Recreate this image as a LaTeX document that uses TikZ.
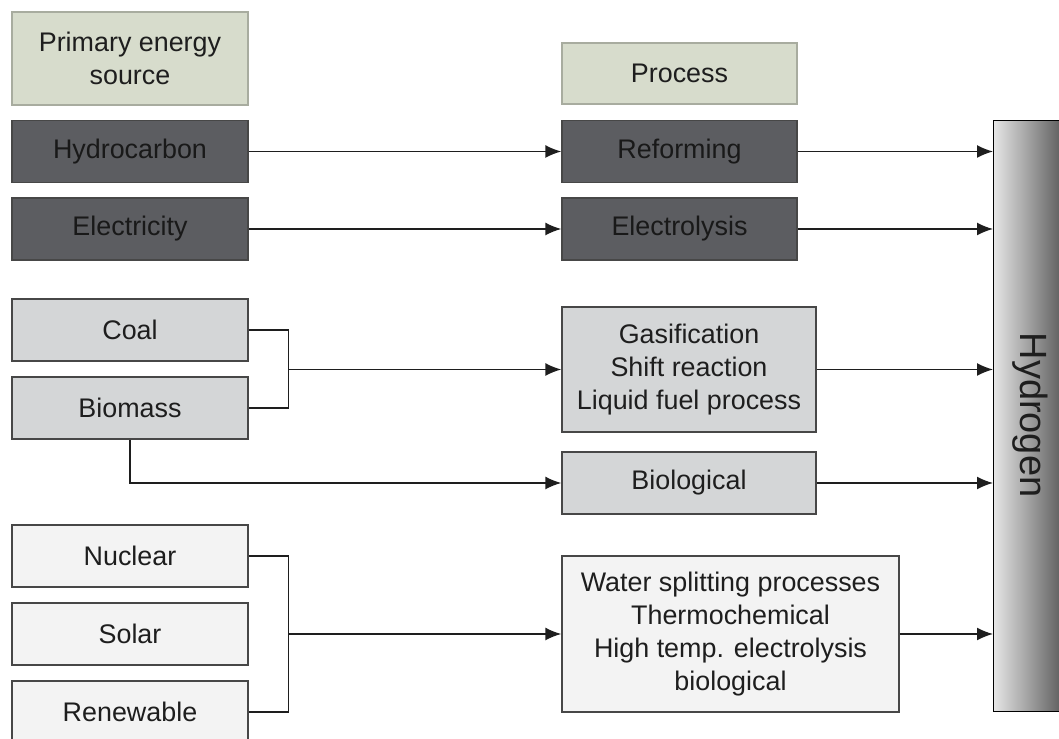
\documentclass[tikz,border=0pt]{standalone}
\usepackage{fontspec}
\setmainfont{Liberation Sans}
\usepackage{xcolor}
\usepackage{tikz}
\usetikzlibrary{arrows.meta,positioning,calc}
\definecolor{headfill}{HTML}{D7DCCC}
\definecolor{headline}{HTML}{A8AC9F}
\definecolor{darkfill}{HTML}{5C5D61}
\definecolor{midfill}{HTML}{D4D6D7}
\definecolor{lightfill}{HTML}{F3F3F3}
\definecolor{boxline}{HTML}{474747}
\definecolor{txt}{HTML}{1E1E1E}

\begin{document}
\begin{tikzpicture}[transform shape,scale=1,
	box/.style={draw=boxline,line width=0.8pt,align=center,inner sep=0pt,text=txt,font=\fontsize{15.3}{18.8}\selectfont},
	head/.style={box,fill=headfill,draw=headline},
	dark/.style={box,fill=darkfill,text=black!90},
	mid/.style={box,fill=midfill},
	light/.style={box,fill=lightfill},
	src/.style={minimum width=4.72cm,minimum height=1.24cm},
	arr/.style={-{Latex[length=0.32cm,width=0.26cm]},line width=0.85pt,draw=txt},
	link/.style={line width=0.85pt,draw=txt}]
	\clip (0,0) rectangle (21.18,14.78);
	\node[head,minimum width=4.72cm,minimum height=1.86cm] (primary) at (2.6,13.61) {Primary energy\\source};
	\node[head,minimum width=4.7cm,minimum height=1.22cm] (process) at (13.59,13.31) {Process};
	\node[dark,src] (hydrocarbon) at (2.6,11.75) {Hydrocarbon};
	\node[dark,src] (electricity) at (2.6,10.2) {Electricity};
	\node[mid,src] (coal) at (2.6,8.18) {Coal};
	\node[mid,src] (biomass) at (2.6,6.62) {Biomass};
	\node[light,src] (nuclear) at (2.6,3.66) {Nuclear};
	\node[light,src] (solar) at (2.6,2.1) {Solar};
	\node[light,src] (renewable) at (2.6,0.54) {Renewable};
	\node[dark,minimum width=4.7cm,minimum height=1.24cm] (reforming) at (13.59,11.75) {Reforming};
	\node[dark,minimum width=4.7cm,minimum height=1.24cm] (electrolysis) at (13.59,10.2) {Electrolysis};
	\node[mid,minimum width=5.08cm,minimum height=2.5cm] (gasification) at (13.78,7.39) {Gasification\\Shift reaction\\Liquid fuel process};
	\node[mid,minimum width=5.08cm,minimum height=1.24cm] (biological) at (13.78,5.12) {Biological};
	\node[light,minimum width=6.74cm,minimum height=3.12cm] (splitting) at (14.61,2.1) {Water splitting processes\\Thermochemical\\High temp. electrolysis\\biological};
	\node[draw=black,line width=0.8pt,left color=black!10,right color=black!72,minimum width=1.6cm,minimum height=11.82cm,inner sep=0pt,anchor=south west] (hydrogen) at (19.86,0.54) {};
	\node[rotate=-90,font=\fontsize{21.6}{26}\selectfont,text=txt] (h2label) at (20.6,6.48) {Hydrogen};
	\draw[arr] (hydrocarbon) -- (reforming);
	\draw[arr] (electricity) -- (electrolysis);
	\draw[arr] (reforming) -- (reforming -| hydrogen.west);
	\draw[arr] (electrolysis) -- (electrolysis -| hydrogen.west);
	\draw[link] (coal.east) -- ++(0.8,0) coordinate (cj) |- (biomass.east);
	\draw[arr] (cj |- gasification.west) -- (gasification.west);
	\draw[arr] (gasification) -- (gasification -| hydrogen.west);
	\draw[arr] (biomass.south) |- (biological.west);
	\draw[arr] (biological) -- (biological -| hydrogen.west);
	\draw[link] (nuclear.east) -- ++(0.8,0) coordinate (nj) |- (renewable.east);
	\draw[arr] (nj |- splitting.west) -- (splitting.west);
	\draw[arr] (splitting) -- (splitting -| hydrogen.west);
\end{tikzpicture}
\end{document}
